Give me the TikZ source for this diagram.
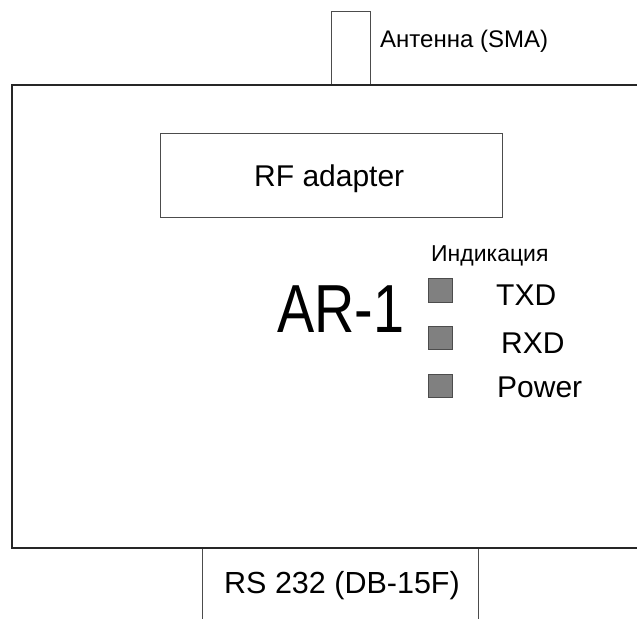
\documentclass[tikz,border=0pt]{standalone}
\usepackage{fontspec}
\setmainfont{Liberation Sans}
\begin{document}
\begin{tikzpicture}[x=1pt,y=-1pt,
  frame/.style={draw=black!85,line width=1.1pt},
  part/.style={draw=black!70,line width=0.9pt},
  led/.style={draw=black!70,line width=0.8pt,fill=black!50},
  lbl/.style={inner sep=0pt,anchor=base west,text=black}]
\useasboundingbox (0,0) rectangle (637,619);
% antenna connector
\draw[part] (331,84) -- (331,11) -- (370,11) -- (370,84);
\node[lbl,font=\fontsize{24}{24}\selectfont] (ant) at (380,47) {Антенна (SMA)};
% device housing
\draw[frame] (637,85) -- (12,85) -- (12,548) -- (637,548);
% serial connector
\draw[part] (202,549) -- (202,619);
\draw[part] (478,549) -- (478,619);
\node[lbl,font=\fontsize{30.5}{30.5}\selectfont] (rs) at (224,593) {RS 232 (DB-15F)};
% RF adapter
\draw[part] (160,133) rectangle (502,217);
\node[lbl,font=\fontsize{30}{30}\selectfont] (rf) at (254,186) {RF adapter};
% device name, set slightly condensed
\node[lbl,font=\fontsize{68}{68}\selectfont] (name) at (277,332) {\scalebox{0.82}[1]{AR-1}};
% indicators
\node[lbl,font=\fontsize{23}{23}\selectfont] (ind) at (431,261) {Индикация};
\draw[led] (428,278) rectangle (452,302);
\draw[led] (428,326) rectangle (452,349);
\draw[led] (428,374) rectangle (452,397);
\node[lbl,font=\fontsize{30}{30}\selectfont] (txd) at (496,305) {TXD};
\node[lbl,font=\fontsize{30}{30}\selectfont] (rxd) at (501,353) {RXD};
\node[lbl,font=\fontsize{30}{30}\selectfont] (pwr) at (497,397) {Power};
\end{tikzpicture}
\end{document}
